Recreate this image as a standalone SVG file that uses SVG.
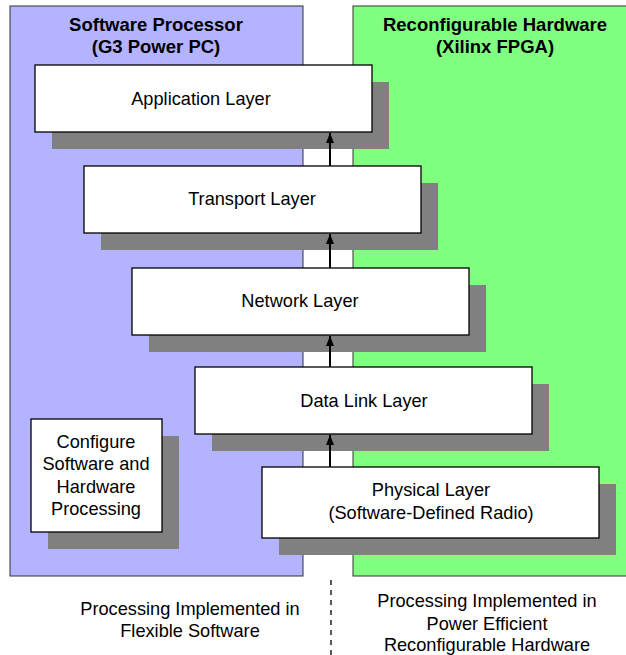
<svg xmlns="http://www.w3.org/2000/svg" width="626" height="655" viewBox="0 0 626 655">
<style>
text{font-family:"Liberation Sans",Arial,sans-serif;font-size:18.2px;fill:#000;text-anchor:middle}
.title{font-weight:bold;font-size:18.5px}
.box{fill:#fff;stroke:#000;stroke-width:1.3}
.shadow{fill:#808080}
.conn{stroke:#000;stroke-width:2;fill:none}
</style>
<defs>
<marker id="ah" markerWidth="10" markerHeight="8" refX="10" refY="4" orient="auto" markerUnits="userSpaceOnUse" viewBox="0 0 10 8" overflow="visible">
<path d="M0,0 L10,4 L0,8 Z" fill="#000"/>
</marker>
</defs>
<rect width="626" height="655" fill="#fff"/>
<g id="panel-software">
<rect x="10" y="6" width="293" height="570" fill="#B3B3FF" stroke="#333" stroke-width="1"/>
<text class="title" x="156" y="31">Software Processor</text>
<text class="title" x="156" y="53">(G3 Power PC)</text>
</g>
<g id="panel-hardware">
<rect x="353" y="6" width="290" height="570" fill="#80FF80" stroke="#333" stroke-width="1"/>
<text class="title" x="495" y="31">Reconfigurable Hardware</text>
<text class="title" x="495" y="53">(Xilinx FPGA)</text>
</g>
<g id="application">
<rect class="shadow" x="52" y="82" width="337" height="67"/>
<rect class="box" x="35" y="65" width="337" height="67"/>
<text x="201" y="105">Application Layer</text>
</g>
<g id="transport">
<rect class="shadow" x="101" y="183" width="337" height="67"/>
<rect class="box" x="84" y="166" width="337" height="67"/>
<text x="252" y="205">Transport Layer</text>
</g>
<g id="network">
<rect class="shadow" x="149" y="285" width="337" height="67"/>
<rect class="box" x="132" y="268" width="337" height="67"/>
<text x="300" y="307">Network Layer</text>
</g>
<g id="datalink">
<rect class="shadow" x="212" y="384" width="337" height="67"/>
<rect class="box" x="195" y="367" width="337" height="67"/>
<text x="364" y="407">Data Link Layer</text>
</g>
<g id="physical">
<rect class="shadow" x="279" y="484" width="337" height="71"/>
<rect class="box" x="262" y="467" width="337" height="71"/>
<text x="431" y="496">Physical Layer</text>
<text x="431" y="519">(Software-Defined Radio)</text>
</g>
<g id="configure">
<rect class="shadow" x="48" y="436" width="131" height="113"/>
<rect class="box" x="31" y="419" width="131" height="113"/>
<text x="96" y="448">Configure</text>
<text x="96" y="470">Software and</text>
<text x="96" y="493">Hardware</text>
<text x="96" y="515">Processing</text>
</g>
<g id="connectors">
<line class="conn" x1="330" y1="166" x2="330" y2="133" marker-end="url(#ah)"/>
<line class="conn" x1="330" y1="268" x2="330" y2="234" marker-end="url(#ah)"/>
<line class="conn" x1="330" y1="367" x2="330" y2="336" marker-end="url(#ah)"/>
<line class="conn" x1="330" y1="467" x2="330" y2="435" marker-end="url(#ah)"/>
<line x1="331" y1="580" x2="331" y2="655" stroke="#000" stroke-width="1.3" stroke-dasharray="5,5"/>
</g>
<g id="captions">
<text x="190" y="615">Processing Implemented in</text>
<text x="190" y="637">Flexible Software</text>
<text x="487" y="607">Processing Implemented in</text>
<text x="487" y="630">Power Efficient</text>
<text x="487" y="651">Reconfigurable Hardware</text>
</g>
</svg>
